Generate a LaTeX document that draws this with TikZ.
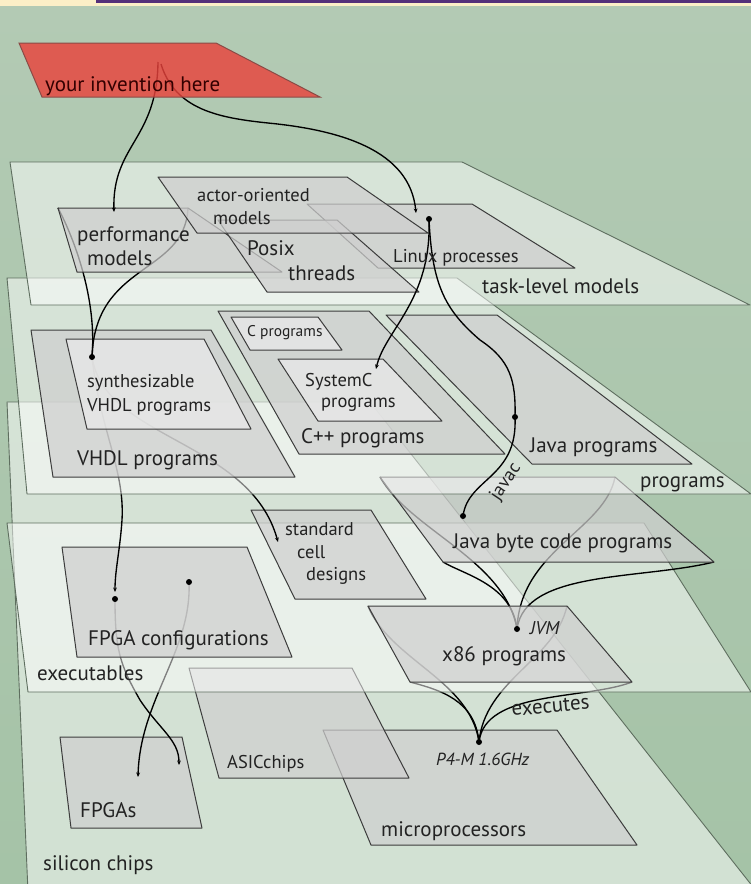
\documentclass[tikz,border=0pt]{standalone}
\usepackage{fontspec}
\setmainfont{PT Sans}
\usetikzlibrary{arrows.meta}
\definecolor{bgtop}{HTML}{B3CAB4}
\definecolor{bgbot}{HTML}{A5C3A7}
\definecolor{cream}{HTML}{FCEFC7}
\definecolor{topbar}{HTML}{55307A}
\definecolor{bigedge}{HTML}{5E6E5F}
\definecolor{edge}{HTML}{3C3C3C}
\definecolor{planegray}{HTML}{CFCFCF}
\definecolor{planelight}{HTML}{EAEAEA}
\definecolor{redfill}{HTML}{E8433C}
\definecolor{rededge}{HTML}{8A4B46}
\definecolor{txt}{HTML}{222222}
\newcommand\lblL{\fontsize{21}{23}\selectfont}
\newcommand\lblM{\fontsize{18.5}{20}\selectfont}
\newcommand\lblS{\fontsize{15.5}{17}\selectfont}
\begin{document}
\begin{tikzpicture}[x=1pt,y=-1pt,
  bigplane/.style={fill=white, fill opacity=0.5, draw=bigedge, line width=0.9pt, line join=round},
  plane/.style={fill=planegray, fill opacity=0.72, draw=edge, line width=1pt, line join=round},
  lplane/.style={fill=planelight, fill opacity=0.72, draw=edge, line width=1pt, line join=round},
  conn/.style={draw=black, line width=1.35pt},
  tip/.style={-{Stealth[length=4.5pt,width=3.8pt]}},
  lbl/.style={anchor=base west, inner sep=0pt, text=txt, font=\lblL},
  lblm/.style={lbl, font=\lblM},
]
\useasboundingbox (0,0) rectangle (751,884);
% background
\shade[top color=bgtop, bottom color=bgbot] (0,0) rectangle (751,884);
\fill[cream] (0,0) rectangle (751,6);
\fill[topbar] (96,0) rectangle (751,3.3);

% ---------- points ----------
\coordinate (redA) at (158,62);
\coordinate (redB) at (161,64);
\coordinate (perfIn) at (114,212);
\coordinate (linuxIn) at (416,213);
\coordinate (linuxDot) at (429,219);
\coordinate (sysIn) at (376,369);
\coordinate (javaDot) at (515,417);
\coordinate (jbDot) at (463,516);
\coordinate (jvm) at (517,629);
\coordinate (p4) at (479,742);
\coordinate (synthDot) at (92,357);
\coordinate (fcIn) at (115,592);
\coordinate (stdIn) at (278,542);
\coordinate (fcDotA) at (115,599);
\coordinate (fcDotB) at (189,582);
\coordinate (fpgaInA) at (138,777);
\coordinate (fpgaInB) at (179,765);
\coordinate (perfTL) at (58,208);
\coordinate (perfTR) at (188,208);
\coordinate (jbTL) at (380,477);
\coordinate (jbTR) at (615,477);
\coordinate (jbBR) at (714,562);
\coordinate (jbBL) at (443,562);
\coordinate (xTL) at (368,606);
\coordinate (xTR) at (567,606);
\coordinate (xBR) at (632,682);
\coordinate (xBL) at (410,682);

% ---------- silicon chips layer ----------
\draw[bigplane] (7,402) -- (370,402) -- (757,892) -- (28,892) -- cycle;
\draw[plane] (323,730) -- (557,730) -- (637,845) -- (371,845) -- cycle; % microprocessors
\draw[plane] (189,668) -- (352,668) -- (409,778) -- (219,778) -- cycle; % ASIC
\draw[plane] (60,737) -- (182,737) -- (202,828) -- (71,828) -- cycle; % FPGAs

% curves into silicon
\draw[conn,tip] (fcDotB) .. controls (192,650) and (140,700) .. (fpgaInA);
\draw[conn,tip] (fcDotA) .. controls (115,650) and (120,665) .. (140,700) .. controls (160,730) and (179,740) .. (fpgaInB);
\draw[conn] (xTL) .. controls (390,660) and (470,680) .. (p4);
\draw[conn] (xTR) .. controls (555,660) and (485,680) .. (p4);
\draw[conn] (xBL) .. controls (440,690) and (475,700) .. (p4);
\draw[conn] (xBR) .. controls (585,700) and (485,690) .. (p4);

% ---------- executables layer ----------
\draw[bigplane] (7,523) -- (644,523) -- (751,692) -- (28,692) -- cycle;
\draw[conn] (jbTL) .. controls (410,530) and (505,560) .. (jvm);
\draw[conn] (jbTR) .. controls (605,530) and (520,550) .. (jvm);
\draw[conn] (jbBR) .. controls (640,580) and (525,570) .. (jvm);
\draw[conn] (jbBL) .. controls (465,575) and (512,585) .. (jvm);
\draw[plane] (62,547) -- (247,547) -- (292,657) -- (77,657) -- cycle; % FPGA config
\draw[plane] (251,510) -- (371,510) -- (426,599) -- (295,599) -- cycle; % standard cell
\draw[plane] (xTL) -- (xTR) -- (xBR) -- (xBL) -- cycle; % x86
\draw[plane] (jbTL) -- (jbTR) -- (jbBR) -- (jbBL) -- cycle; % Java byte code

\draw[conn,tip] (synthDot) .. controls (100,430) and (125,470) .. (122,520) .. controls (120,550) and (115,570) .. (fcIn);
\draw[conn,tip] (synthDot) .. controls (105,440) and (250,440) .. (stdIn);

% ---------- programs layer ----------
\draw[bigplane] (7,278) -- (457,278) -- (751,494) -- (27,494) -- cycle;
\draw[plane] (31,330) -- (211,330) -- (295,477) -- (53,477) -- cycle; % VHDL
\draw[plane] (218,311) -- (369,311) -- (505,454) -- (299,454) -- cycle; % C++
\draw[plane] (386,315) -- (497,315) -- (692,464) -- (532,464) -- cycle; % Java
\draw[lplane] (66,339) -- (204,339) -- (251,429) -- (87,429) -- cycle; % synth
\draw[lplane] (231,317) -- (318,317) -- (342,350) -- (250,350) -- cycle; % C
\draw[lplane] (278,359) -- (383,359) -- (442,421) -- (318,421) -- cycle; % SystemC

% ---------- task-level layer ----------
\draw[bigplane] (10,162) -- (462,162) -- (750,305) -- (31,305) -- cycle;
\draw[conn] (perfTL) .. controls (75,240) and (97,300) .. (synthDot);
\draw[conn] (perfTR) .. controls (185,275) and (95,262) .. (synthDot);
\draw[plane] (perfTL) -- (perfTR) -- (282,272) -- (77,272) -- cycle; % performance
\draw[plane] (307,204) -- (472,204) -- (575,268) -- (378,268) -- cycle; % Linux
\draw[plane] (218,220) -- (337,220) -- (419,292) -- (267,292) -- cycle; % Posix
\draw[plane] (158,177) -- (347,177) -- (428,233) -- (197,233) -- cycle; % actor

% ---------- your invention ----------
\draw[conn,tip] (redA) .. controls (157,140) and (112,145) .. (perfIn);
\draw[conn,tip] (redB) .. controls (175,110) and (220,118) .. (268,123) .. controls (340,130) and (410,150) .. (linuxIn);
\draw[fill=redfill, fill opacity=0.82, draw=rededge, line width=1pt] (19,43) -- (216,43) -- (320,97) -- (42,97) -- cycle;

% ---------- top connectors ----------
\draw[conn,tip] (linuxDot) .. controls (432,300) and (385,330) .. (sysIn);
\draw[conn] (linuxDot) .. controls (432,285) and (445,310) .. (480,340) .. controls (510,360) and (516,380) .. (javaDot);
\draw[conn] (javaDot) .. controls (518,478) and (468,478) .. (jbDot);

% dots
\foreach \p in {linuxDot,javaDot,jbDot,jvm,p4,synthDot,fcDotA,fcDotB}
  \fill (\p) circle[radius=3pt];

% ---------- labels ----------
\node[lbl, text=black!80!red] (tInv) at (45,91) {your invention here};
\node[lbl] (tTask) at (482,293) {task-level models};
\node[lbl] (tProg) at (640,487) {programs};
\node[lblm] (tAct1) at (197,201) {actor-oriented};
\node[lblm] (tAct2) at (213,224) {models};
\node[lbl] (tPerf1) at (77,241) {performance};
\node[lbl] (tPerf2) at (87,265) {models};
\node[lbl] (tPos1) at (247,255) {Posix};
\node[lbl] (tPos2) at (288,280) {threads};
\node[lblm] (tLin) at (393,262) {Linux processes};
\node[lbl, font=\lblS] (tC) at (247,336) {C programs};
\node[lblm] (tSys1) at (305,386) {SystemC};
\node[lblm] (tSys2) at (321,407) {programs};
\node[lblm] (tSyn1) at (87,387) {synthesizable};
\node[lblm] (tSyn2) at (87,411) {VHDL programs};
\node[lbl] (tVhdl) at (77,465) {VHDL programs};
\node[lbl] (tCpp) at (301,443) {C++ programs};
\node[lbl] (tJava) at (530,452) {Java programs};
\node[lblm, anchor=center, rotate=56] (tJavac) at (506,482) {javac};
\node[lbl] (tJbc) at (453,548) {Java byte code programs};
\node[lblm] (tStd1) at (285,535) {standard};
\node[lblm] (tStd2) at (297,558) {cell};
\node[lblm] (tStd3) at (306,580) {designs};
\node[lbl] (tFc) at (88,645) {FPGA configurations};
\node[lbl] (tExe) at (37,680) {executables};
\node[lblm, font=\lblM\itshape] (tJvm) at (530,634) {JVM};
\node[lbl] (tX86) at (442,661) {x86 programs};
\node[lbl, rotate=5] (tExes) at (512,716) {executes};
\node[lblm] (tAsic) at (227,768) {ASICchips};
\node[lblm, font=\fontsize{17.5}{19}\selectfont\itshape] (tP4) at (436,765) {P4-M 1.6GHz};
\node[lbl] (tFpga) at (80,817) {FPGAs};
\node[lbl] (tMicro) at (381,836) {microprocessors};
\node[lbl] (tSil) at (43,870) {silicon chips};
\end{tikzpicture}
\end{document}
